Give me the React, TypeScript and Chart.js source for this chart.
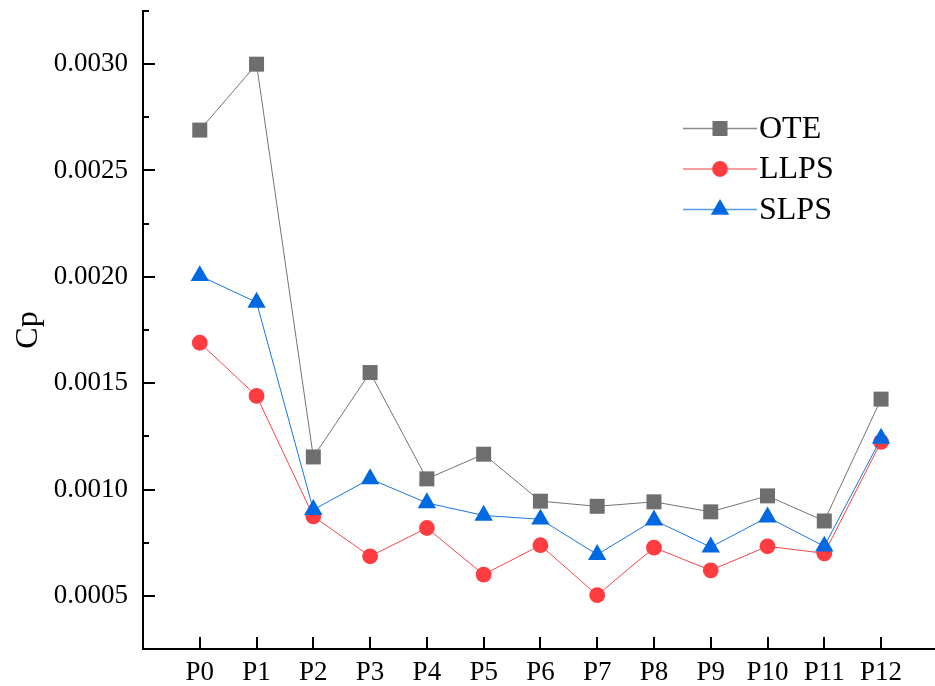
import React, { useEffect, useRef } from 'react';
import { Chart, registerables } from 'chart.js';
import { drawPoint } from 'chart.js/helpers';

Chart.register(...registerables);

// Measuring points along the profile
const CATEGORIES = ['P0', 'P1', 'P2', 'P3', 'P4', 'P5', 'P6', 'P7', 'P8', 'P9', 'P10', 'P11', 'P12'];

// Pressure coefficient Cp for each configuration
const OTE = [0.00269, 0.003, 0.001153, 0.00155, 0.00105, 0.001166, 0.000945, 0.000921, 0.000942, 0.000895, 0.00097, 0.000852, 0.001425];
const LLPS = [0.00169, 0.00144, 0.000874, 0.000686, 0.000819, 0.0006, 0.000738, 0.000503, 0.000727, 0.00062, 0.000733, 0.0007, 0.001224];
const SLPS = [0.002005, 0.00188, 0.000905, 0.00105, 0.000937, 0.000878, 0.00086, 0.000694, 0.000856, 0.000729, 0.00087, 0.000733, 0.00124];

// Labelled and unlabelled ticks on the Cp axis
const Y_TICKS = [0.0005, 0.001, 0.0015, 0.002, 0.0025, 0.003];
const Y_MINOR = [0.00025, 0.00075, 0.00125, 0.00175, 0.00225, 0.00275, 0.00325];

const SERIF = "'Liberation Serif', 'Times New Roman', serif";

// Inward tick marks on both axes
const axisTicks = {
  id: 'axisTicks',
  afterDraw(chart: any) {
    const { ctx, chartArea } = chart;
    const xs = chart.scales.x;
    const ys = chart.scales.y;
    ctx.save();
    ctx.strokeStyle = '#000';
    ctx.lineWidth = 2;
    ctx.beginPath();
    Y_TICKS.forEach((v) => {
      const y = Math.round(ys.getPixelForValue(v));
      ctx.moveTo(chartArea.left, y);
      ctx.lineTo(chartArea.left + 12, y);
    });
    Y_MINOR.forEach((v) => {
      const y = Math.round(ys.getPixelForValue(v));
      ctx.moveTo(chartArea.left, y);
      ctx.lineTo(chartArea.left + 6, y);
    });
    CATEGORIES.forEach((_, i) => {
      const x = Math.round(xs.getPixelForValue(i));
      ctx.moveTo(x, chartArea.bottom);
      ctx.lineTo(x, chartArea.bottom - 12);
    });
    ctx.stroke();
    ctx.restore();
  },
};

// Legend drawn as line + marker + label, inside the plot
const seriesLegend = {
  id: 'seriesLegend',
  afterDraw(chart: any) {
    const { ctx } = chart;
    ctx.save();
    chart.data.datasets.forEach((ds: any, i: number) => {
      const y = 128.5 + i * 40.5;
      ctx.strokeStyle = ds.legendLineColor;
      ctx.lineWidth = 1.5;
      ctx.beginPath();
      ctx.moveTo(683, y);
      ctx.lineTo(757, y);
      ctx.stroke();
      ctx.fillStyle = ds.pointBackgroundColor;
      drawPoint(ctx, { pointStyle: ds.pointStyle, radius: ds.pointRadius, rotation: 0, borderWidth: 0 }, 720, y);
      ctx.fillStyle = '#000';
      ctx.font = `32px ${SERIF}`;
      ctx.textBaseline = 'middle';
      ctx.textAlign = 'left';
      ctx.fillText(ds.label, 759, y + 1);
    });
    ctx.restore();
  },
};

export default function App() {
  const canvasRef = useRef<HTMLCanvasElement>(null);

  useEffect(() => {
    const canvas = canvasRef.current;
    if (!canvas) return;
    const toPoints = (vals: number[]) => vals.map((v, i) => ({ x: i, y: v }));

    const chart = new Chart(canvas, {
      type: 'line',
      data: {
        datasets: [
          {
            label: 'OTE',
            data: toPoints(OTE),
            borderColor: '#737373',
            legendLineColor: '#8c8c8c',
            borderWidth: 1,
            pointStyle: 'rect',
            pointRadius: 10.6,
            pointBackgroundColor: '#6e6e6e',
            pointBorderWidth: 0,
            order: 3,
          },
          {
            label: 'LLPS',
            data: toPoints(LLPS),
            borderColor: '#f5474a',
            legendLineColor: '#f77b7d',
            borderWidth: 1,
            pointStyle: 'circle',
            pointRadius: 7.9,
            pointBackgroundColor: '#ff3c40',
            pointBorderWidth: 0,
            order: 2,
          },
          {
            label: 'SLPS',
            data: toPoints(SLPS),
            borderColor: '#1a74e0',
            legendLineColor: '#5a9ceb',
            borderWidth: 1,
            pointStyle: 'triangle',
            pointRadius: 10.6,
            pointBackgroundColor: '#0068e0',
            pointBorderWidth: 0,
            order: 1,
          },
        ] as any,
      },
      options: {
        animation: false,
        responsive: false,
        events: [],
        layout: { autoPadding: false, padding: { top: 11, left: 0, right: 0, bottom: 0 } },
        plugins: { legend: { display: false }, tooltip: { enabled: false } },
        scales: {
          x: {
            type: 'linear',
            min: -1,
            max: 12.95,
            grid: { display: false, drawTicks: false },
            border: { display: true, color: '#000', width: 2 },
            afterBuildTicks: (s: any) => {
              s.ticks = CATEGORIES.map((_, i) => ({ value: i }));
            },
            afterFit: (s: any) => {
              s.height = 37;
              s.paddingLeft = 0;
              s.paddingRight = 0;
            },
            ticks: {
              autoSkip: false,
              maxRotation: 0,
              padding: 8,
              color: '#000',
              font: { family: SERIF, size: 27 },
              callback: (v: any) => CATEGORIES[v as number] ?? '',
            },
          },
          y: {
            min: 0.00025,
            max: 0.00325,
            grid: { display: false, drawTicks: false },
            border: { display: true, color: '#000', width: 2 },
            afterBuildTicks: (s: any) => {
              s.ticks = Y_TICKS.map((v) => ({ value: v }));
            },
            afterFit: (s: any) => {
              s.width = 143;
              s.paddingTop = 0;
              s.paddingBottom = 0;
            },
            title: {
              display: true,
              text: 'Cp',
              color: '#000',
              font: { family: SERIF, size: 32 },
              padding: { top: 9, bottom: 0 },
            },
            ticks: {
              padding: 15,
              color: '#000',
              font: { family: SERIF, size: 27 },
              callback: (v: any) => (v as number).toFixed(4),
            },
          },
        },
      },
      plugins: [axisTicks, seriesLegend],
    });

    return () => chart.destroy();
  }, []);

  return (
    <div style={{ position: 'fixed', left: 0, top: 0, width: 935, height: 686, background: '#fff' }}>
      <canvas ref={canvasRef} width={935} height={686} style={{ display: 'block' }} />
    </div>
  );
}
